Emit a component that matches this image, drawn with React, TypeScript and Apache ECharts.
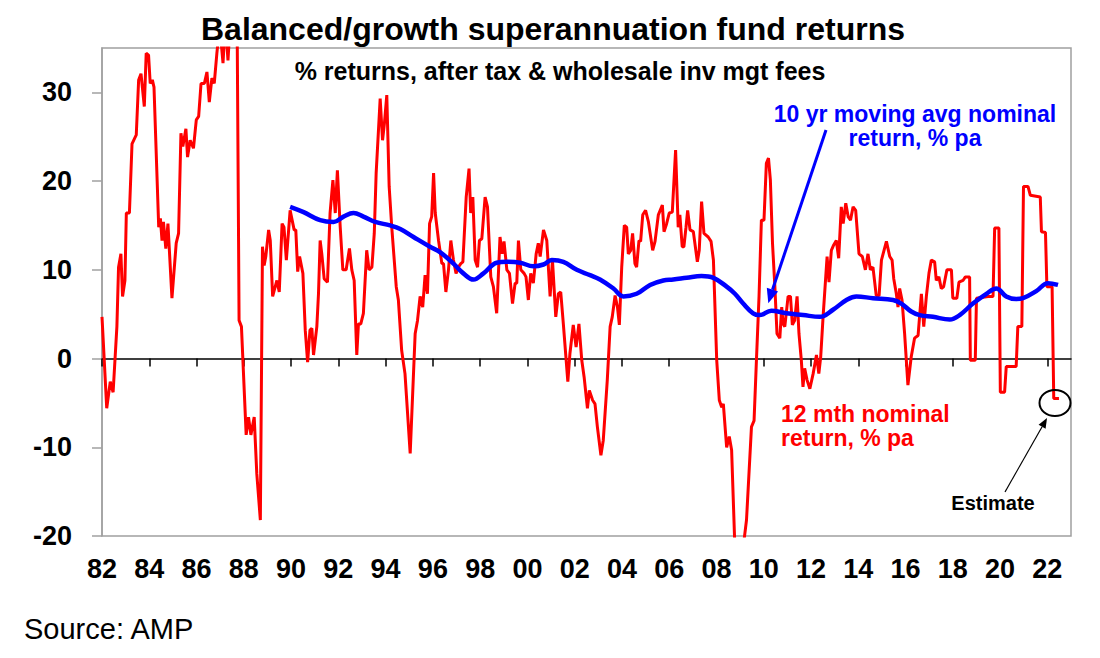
import { useEffect, useRef } from 'react'
import * as echarts from 'echarts'

// 12 month nominal return, % pa  [year, value]
const returns12m: [number, number][] = [
  [1982.0, 4.7], [1982.2, -5.6], [1982.35, -2.6], [1982.47, -3.8], [1982.63, 3.6], [1982.7, 10.3],
  [1982.8, 11.8], [1982.87, 7.0], [1982.97, 8.8], [1983.03, 16.4], [1983.16, 16.4], [1983.27, 24.2],
  [1983.45, 25.2], [1983.55, 31.4], [1983.65, 32.1], [1983.79, 28.4], [1983.87, 34.4], [1983.97, 34.2],
  [1984.04, 31.0], [1984.13, 31.4], [1984.2, 30.6], [1984.4, 14.8], [1984.47, 15.8], [1984.54, 13.3],
  [1984.6, 15.4], [1984.7, 12.4], [1984.79, 15.2], [1984.96, 6.8], [1985.14, 13.0], [1985.24, 14.1],
  [1985.34, 25.4], [1985.42, 23.9], [1985.55, 25.9], [1985.62, 22.7], [1985.73, 24.6], [1985.87, 23.7],
  [1985.99, 26.9], [1986.09, 27.3], [1986.19, 31.0], [1986.33, 31.0], [1986.44, 32.3], [1986.54, 28.9],
  [1986.65, 31.6], [1986.75, 31.0], [1986.86, 34.4], [1986.98, 37.5], [1987.12, 33.3], [1987.22, 38.0],
  [1987.33, 33.6], [1987.45, 39.0], [1987.6, 44.0], [1987.7, 45.0], [1987.8, 4.3], [1987.9, 3.6],
  [1988.1, -8.6], [1988.2, -6.6], [1988.3, -8.6], [1988.44, -6.6], [1988.55, -13.0], [1988.7, -18.2],
  [1988.79, 12.6], [1988.86, 10.5], [1988.93, 11.5], [1989.05, 14.5], [1989.12, 13.3], [1989.22, 7.0],
  [1989.33, 8.1], [1989.4, 8.8], [1989.5, 7.5], [1989.62, 15.2], [1989.7, 14.8], [1989.8, 11.1],
  [1989.96, 16.7], [1990.13, 14.5], [1990.2, 14.5], [1990.28, 9.8], [1990.36, 11.5], [1990.5, 9.6],
  [1990.6, 3.2], [1990.7, -0.4], [1990.8, 3.2], [1990.88, 3.4], [1990.95, 0.4], [1991.09, 3.6],
  [1991.16, 7.3], [1991.23, 13.3], [1991.3, 11.8], [1991.4, 9.0], [1991.54, 8.6], [1991.65, 16.4],
  [1991.77, 20.1], [1991.87, 16.4], [1991.96, 21.2], [1992.08, 14.8], [1992.19, 10.0], [1992.33, 10.0],
  [1992.47, 12.4], [1992.57, 10.0], [1992.67, 8.8], [1992.78, 0.4], [1992.85, 3.9], [1992.95, 3.9],
  [1993.06, 5.1], [1993.2, 12.2], [1993.3, 10.0], [1993.42, 10.3], [1993.52, 14.1], [1993.6, 20.9],
  [1993.77, 29.3], [1993.87, 24.6], [1993.95, 26.5], [1994.05, 29.7], [1994.15, 19.4], [1994.26, 14.8],
  [1994.45, 8.1], [1994.54, 6.6], [1994.68, 0.9], [1994.82, -1.7], [1995.04, -10.7], [1995.25, 2.8],
  [1995.35, 4.3], [1995.46, 7.0], [1995.57, 5.8], [1995.67, 9.4], [1995.77, 7.3], [1995.86, 15.2],
  [1995.95, 16.0], [1996.03, 20.9], [1996.1, 16.4], [1996.24, 13.3], [1996.38, 10.7], [1996.45, 10.7],
  [1996.55, 7.5], [1996.66, 10.0], [1996.76, 13.3], [1996.87, 11.1], [1996.98, 9.6], [1997.08, 10.3],
  [1997.18, 10.7], [1997.27, 10.9], [1997.41, 18.2], [1997.53, 21.4], [1997.6, 16.4], [1997.69, 18.2],
  [1997.79, 11.1], [1997.89, 10.3], [1997.97, 13.3], [1998.07, 13.5], [1998.21, 18.2], [1998.31, 17.1],
  [1998.45, 9.2], [1998.56, 8.1], [1998.7, 5.1], [1998.84, 13.7], [1998.93, 11.8], [1999.01, 13.2],
  [1999.13, 10.0], [1999.24, 9.6], [1999.37, 6.2], [1999.48, 8.5], [1999.55, 8.5], [1999.62, 13.3],
  [1999.72, 10.0], [1999.86, 9.6], [1999.94, 9.2], [2000.04, 6.6], [2000.14, 9.6], [2000.25, 8.5],
  [2000.37, 11.8], [2000.46, 13.0], [2000.54, 11.5], [2000.68, 14.5], [2000.82, 13.3], [2000.96, 7.0],
  [2001.06, 11.1], [2001.2, 4.7], [2001.31, 7.3], [2001.41, 7.5], [2001.52, 3.9], [2001.71, -2.6],
  [2001.8, 0.6], [2001.94, 3.8], [2002.06, 1.3], [2002.18, 3.9], [2002.3, -0.2], [2002.4, -2.1],
  [2002.54, -5.6], [2002.62, -3.6], [2002.76, -4.7], [2002.86, -5.1], [2002.96, -7.7], [2003.11, -10.9],
  [2003.21, -9.2], [2003.38, -2.4], [2003.5, 3.6], [2003.59, 4.7], [2003.71, 7.1], [2003.81, 5.8],
  [2003.89, 3.8], [2003.99, 10.3], [2004.1, 15.0], [2004.2, 14.8], [2004.27, 11.8], [2004.37, 12.2],
  [2004.45, 14.1], [2004.55, 10.7], [2004.62, 10.3], [2004.72, 13.3], [2004.79, 13.2], [2004.88, 16.2],
  [2005.0, 16.7], [2005.12, 15.4], [2005.3, 12.2], [2005.4, 13.2], [2005.54, 16.2], [2005.71, 17.3],
  [2005.78, 14.3], [2005.89, 15.2], [2006.0, 16.4], [2006.13, 16.5], [2006.27, 23.5], [2006.38, 14.8],
  [2006.45, 16.2], [2006.55, 12.6], [2006.62, 12.6], [2006.71, 14.8], [2006.78, 16.7], [2006.88, 14.5],
  [2007.02, 14.3], [2007.19, 10.9], [2007.27, 12.2], [2007.37, 17.7], [2007.47, 14.1], [2007.65, 13.7],
  [2007.77, 13.2], [2007.87, 11.1], [2008.01, -0.2], [2008.12, -4.7], [2008.22, -5.5], [2008.29, -5.1],
  [2008.43, -10.0], [2008.54, -8.8], [2008.64, -10.3], [2008.8, -23.0], [2009.05, -23.0], [2009.27, -18.2],
  [2009.48, -7.7], [2009.59, -7.0], [2009.69, -0.2], [2009.8, 7.0], [2009.9, 15.6], [2010.01, 15.6],
  [2010.11, 22.0], [2010.2, 22.6], [2010.28, 20.1], [2010.37, 13.0], [2010.47, 8.1], [2010.56, 2.8],
  [2010.68, 2.3], [2010.76, 5.8], [2010.82, 3.9], [2010.89, 3.6], [2011.03, 7.0], [2011.13, 7.0],
  [2011.21, 3.8], [2011.31, 4.3], [2011.41, 7.0], [2011.49, 2.8], [2011.59, -0.2], [2011.66, -3.2],
  [2011.73, -1.1], [2011.83, -2.4], [2011.95, -3.4], [2012.09, -1.7], [2012.23, 0.4], [2012.33, -1.7],
  [2012.41, 0.2], [2012.51, 4.7], [2012.68, 11.5], [2012.76, 8.6], [2012.86, 12.2], [2012.96, 12.8],
  [2013.07, 13.3], [2013.17, 11.3], [2013.28, 17.1], [2013.36, 15.2], [2013.47, 17.5], [2013.57, 16.0],
  [2013.67, 15.6], [2013.78, 17.1], [2013.89, 16.7], [2014.03, 11.8], [2014.17, 11.5], [2014.3, 10.0],
  [2014.41, 11.8], [2014.51, 10.0], [2014.62, 10.3], [2014.76, 7.1], [2014.88, 7.1], [2014.98, 11.1],
  [2015.19, 13.2], [2015.33, 11.5], [2015.43, 11.1], [2015.5, 9.0], [2015.61, 7.3], [2015.68, 5.8],
  [2015.75, 7.9], [2015.85, 6.6], [2015.96, 2.8], [2016.1, -3.0], [2016.24, 0.2], [2016.38, 2.3],
  [2016.53, 2.6], [2016.67, 7.3], [2016.77, 3.6], [2016.88, 7.0], [2016.99, 9.6], [2017.09, 11.1],
  [2017.23, 10.9], [2017.3, 8.8], [2017.41, 9.2], [2017.51, 7.9], [2017.61, 8.1], [2017.75, 10.0],
  [2017.94, 10.0], [2018.0, 6.8], [2018.17, 6.8], [2018.26, 8.6], [2018.43, 8.8], [2018.53, 9.2],
  [2018.71, 9.2], [2018.74, -0.2], [2018.95, -0.2], [2019.0, 6.8], [2019.49, 7.0], [2019.7, 7.0],
  [2019.77, 14.7], [2019.95, 14.7], [2020.01, -3.8], [2020.19, -3.8], [2020.26, -0.9], [2020.68, -0.9],
  [2020.75, 3.6], [2020.92, 3.6], [2020.99, 19.4], [2021.18, 19.4], [2021.28, 18.4], [2021.7, 18.2],
  [2021.75, 14.3], [2021.92, 14.2], [2021.98, 8.1], [2022.2, 8.1], [2022.27, -4.5], [2022.49, -4.5]
]

// 10 yr moving avg nominal return, % pa
const movingAvg10y: [number, number][] = [
  [1989.96, 17.1], [1990.53, 16.5], [1991.23, 15.6], [1991.8, 15.4], [1992.22, 16.0], [1992.64, 16.4],
  [1993.06, 16.0], [1993.56, 15.4], [1994.19, 15.0], [1994.62, 14.6], [1995.18, 13.7], [1995.88, 12.6],
  [1996.3, 12.0], [1996.87, 10.7], [1997.29, 9.6], [1997.72, 8.9], [1998.14, 9.6], [1998.7, 10.8],
  [1999.13, 10.9], [1999.69, 10.8], [2000.25, 10.4], [2000.68, 10.6], [2001.03, 11.1], [2001.52, 10.9],
  [2002.09, 10.0], [2002.65, 9.4], [2003.07, 8.9], [2003.64, 7.9], [2004.06, 7.0], [2004.62, 7.3],
  [2005.19, 8.3], [2005.75, 8.8], [2006.17, 8.9], [2006.74, 9.1], [2007.37, 9.3], [2007.87, 9.1],
  [2008.43, 8.1], [2008.78, 7.3], [2009.13, 6.2], [2009.55, 5.1], [2009.83, 4.9], [2010.32, 5.4],
  [2010.96, 5.1], [2011.66, 4.9], [2012.37, 4.7], [2012.93, 5.5], [2013.5, 6.6], [2013.92, 7.0],
  [2014.62, 6.8], [2015.47, 6.6], [2015.82, 6.2], [2016.24, 5.3], [2016.6, 4.9], [2017.16, 4.7],
  [2017.87, 4.4], [2018.29, 4.9], [2018.85, 6.2], [2019.42, 7.3], [2019.84, 7.9], [2020.26, 7.0],
  [2020.68, 6.7], [2020.97, 6.8], [2021.53, 7.6], [2022.02, 8.5], [2022.45, 8.3]
]

const yearTicks = [
  1982, 1984, 1986, 1988, 1990, 1992, 1994, 1996, 1998, 2000, 2002,
  2004, 2006, 2008, 2010, 2012, 2014, 2016, 2018, 2020, 2022
]
const valueTicks = [-20, -10, 0, 10, 20, 30]

const FONT = '"Liberation Sans", Arial, sans-serif'

export default function App() {
  const chartRef = useRef<HTMLDivElement>(null)

  useEffect(() => {
    if (!chartRef.current) return
    const chart = echarts.init(chartRef.current, undefined, { renderer: 'svg' })

    const boldLabel = {
      color: '#000',
      fontFamily: FONT,
      fontWeight: 'bold' as const,
      fontSize: 27
    }

    const option: any = {
      animation: false,
      backgroundColor: '#fff',
      grid: {
        left: 102,
        top: 48,
        width: 969,
        height: 488,
        show: true,
        borderColor: '#a0a0a0',
        borderWidth: 1.5,
        backgroundColor: 'transparent'
      },
      xAxis: [
        {
          type: 'value',
          min: 1982,
          max: 2023,
          interval: 2,
          position: 'bottom',
          axisLine: { show: false, onZero: false },
          axisTick: { show: false },
          splitLine: { show: false },
          axisLabel: {
            ...boldLabel,
            margin: 19,
            customValues: yearTicks,
            formatter: (v: number) => String(v % 100).padStart(2, '0')
          }
        },
        {
          type: 'value',
          min: 1982,
          max: 2023,
          interval: 2,
          position: 'bottom',
          axisLine: { show: true, onZero: true, lineStyle: { color: '#000', width: 1.5 } },
          axisTick: {
            show: true,
            length: 8,
            customValues: yearTicks,
            lineStyle: { color: '#000', width: 1.5 }
          },
          axisLabel: { show: false },
          splitLine: { show: false }
        }
      ],
      yAxis: {
        type: 'value',
        min: -20,
        max: 35,
        interval: 10,
        axisLine: { show: true, lineStyle: { color: '#a0a0a0', width: 1.5 } },
        axisTick: {
          show: true,
          length: 10,
          customValues: valueTicks,
          lineStyle: { color: '#a0a0a0', width: 1.5 }
        },
        splitLine: { show: false },
        axisLabel: {
          ...boldLabel,
          margin: 30,
          customValues: valueTicks
        }
      },
      series: [
        {
          name: '12 mth nominal return, % pa',
          type: 'line',
          xAxisIndex: 0,
          data: returns12m,
          showSymbol: false,
          symbol: 'none',
          clip: true,
          lineStyle: { color: '#ff0000', width: 3 },
          z: 3
        },
        {
          name: '10 yr moving avg nominal return, % pa',
          type: 'line',
          xAxisIndex: 0,
          data: movingAvg10y,
          smooth: 0.4,
          showSymbol: false,
          symbol: 'none',
          lineStyle: { color: '#0000ff', width: 4.5 },
          z: 4
        }
      ],
      graphic: [
        {
          type: 'text',
          style: {
            text: 'Balanced/growth superannuation fund returns',
            x: 553, y: 29,
            textAlign: 'center', textVerticalAlign: 'middle',
            font: `bold 32px ${FONT}`, fill: '#000'
          }
        },
        {
          type: 'text',
          style: {
            text: '% returns, after tax & wholesale inv mgt fees',
            x: 560, y: 71,
            textAlign: 'center', textVerticalAlign: 'middle',
            font: `bold 25px ${FONT}`, fill: '#000'
          }
        },
        {
          type: 'text',
          style: {
            text: '10 yr moving avg nominal',
            x: 915, y: 114,
            textAlign: 'center', textVerticalAlign: 'middle',
            font: `bold 23px ${FONT}`, fill: '#0000ff'
          }
        },
        {
          type: 'text',
          style: {
            text: 'return, % pa',
            x: 915, y: 138,
            textAlign: 'center', textVerticalAlign: 'middle',
            font: `bold 23px ${FONT}`, fill: '#0000ff'
          }
        },
        {
          type: 'line',
          shape: { x1: 826, y1: 130, x2: 772.5, y2: 289.7 },
          style: { stroke: '#0000ff', lineWidth: 3 },
          z: 10
        },
        {
          type: 'polygon',
          shape: { points: [[768.3, 303.3], [778.1, 291.6], [766.8, 287.8]] },
          style: { fill: '#0000ff' },
          z: 10
        },
        {
          type: 'text',
          style: {
            text: '12 mth nominal',
            x: 781, y: 414,
            textAlign: 'left', textVerticalAlign: 'middle',
            font: `bold 23px ${FONT}`, fill: '#ff0000'
          }
        },
        {
          type: 'text',
          style: {
            text: 'return, % pa',
            x: 781, y: 438,
            textAlign: 'left', textVerticalAlign: 'middle',
            font: `bold 23px ${FONT}`, fill: '#ff0000'
          }
        },
        {
          type: 'ellipse',
          shape: { cx: 1055, cy: 403, rx: 15.5, ry: 13 },
          style: { stroke: '#000', lineWidth: 2, fill: 'none' },
          z: 10
        },
        {
          type: 'line',
          shape: { x1: 1005, y1: 492, x2: 1042.1, y2: 426.7 },
          style: { stroke: '#000', lineWidth: 1.2 },
          z: 10
        },
        {
          type: 'polygon',
          shape: { points: [[1047, 418], [1045.6, 428.7], [1038.6, 424.7]] },
          style: { fill: '#000' },
          z: 10
        },
        {
          type: 'text',
          style: {
            text: 'Estimate',
            x: 993, y: 503,
            textAlign: 'center', textVerticalAlign: 'middle',
            font: `bold 20px ${FONT}`, fill: '#000'
          }
        },
        {
          type: 'text',
          style: {
            text: 'Source: AMP',
            x: 24, y: 629,
            textAlign: 'left', textVerticalAlign: 'middle',
            font: `29px ${FONT}`, fill: '#000'
          }
        }
      ]
    }

    chart.setOption(option)

    return () => {
      chart.dispose()
    }
  }, [])

  return (
    <div
      ref={chartRef}
      style={{ position: 'fixed', left: 0, top: 0, width: 1100, height: 658, background: '#fff' }}
    />
  )
}
